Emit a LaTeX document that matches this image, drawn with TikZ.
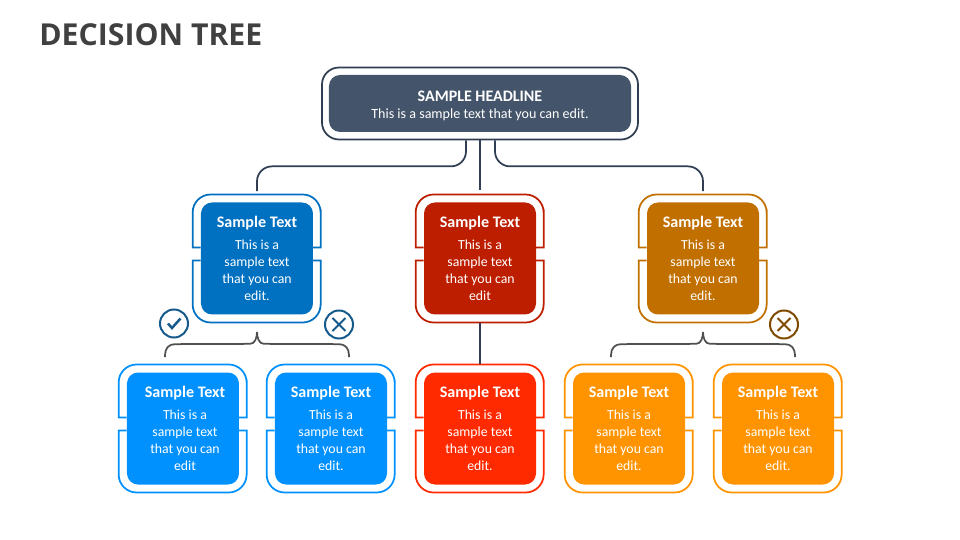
\documentclass[tikz,border=0pt]{standalone}
\usepackage{fontspec}
\setmainfont{Carlito}
\newfontfamily\pagetitlefont{Open Sans}
\usetikzlibrary{positioning}
\definecolor{slate}{HTML}{44546A}
\definecolor{slateline}{HTML}{2F3E52}
\definecolor{forkgrey}{HTML}{505050}
\definecolor{bluedark}{HTML}{0070C0}
\definecolor{bluelight}{HTML}{0091FF}
\definecolor{reddark}{HTML}{BE1E00}
\definecolor{redlight}{HTML}{FF2A00}
\definecolor{ambdark}{HTML}{C17000}
\definecolor{amblight}{HTML}{FF9400}
\definecolor{navyicon}{HTML}{165A8C}
\definecolor{brownicon}{HTML}{7F4A00}
\tikzstyle{card} = [rectangle, rounded corners=0.22cm, minimum width=2.24cm, minimum height=2.24cm, text centered, align=center, text=white, inner sep=0pt, font=\fontsize{7.85}{9.65}\selectfont]
\tikzstyle{framebit} = [line width=0.035cm]
\tikzstyle{link} = [line width=0.035cm, draw=slateline, rounded corners=0.3cm]
\tikzstyle{fork} = [line width=0.035cm, draw=forkgrey]
\tikzstyle{okmark} = [circle, draw, line width=0.04cm, minimum size=0.56cm, inner sep=0pt, path picture={\draw [line width=0.05cm] ([shift={(-0.12,0)}]path picture bounding box.center) -- ++(0.08,-0.09) -- ++(0.17,0.19);}]
\tikzstyle{nomark} = [circle, draw, line width=0.04cm, minimum size=0.56cm, inner sep=0pt, path picture={\draw [line width=0.04cm] ([shift={(-0.13,-0.13)}]path picture bounding box.center) -- ++(0.26,0.26) ++(-0.26,0) -- ++(0.26,-0.26);}]
\newcommand{\cardtext}[2]{{\bfseries\fontsize{9.15}{9.65}\selectfont #1}\\[0.11cm]#2}
% outline round a card, broken at both sides
\newcommand{\cardframe}[2]{
	\draw [framebit, draw=#2] ([yshift=0.22cm]#1.west) -- ++(-0.16,0) -- ++(0,0.4) [rounded corners=0.36cm] -- ++(0,0.66) -- ++(2.56,0) -- ++(0,-0.66) [sharp corners] -- ++(0,-0.4) -- ++(-0.16,0);
	\draw [framebit, draw=#2] ([yshift=-0.04cm]#1.west) -- ++(-0.16,0) -- ++(0,-0.4) [rounded corners=0.36cm] -- ++(0,-0.84) -- ++(2.56,0) -- ++(0,0.84) [sharp corners] -- ++(0,0.4) -- ++(-0.16,0);
}
% curly bracket: #1 tip, #2 and #3 the two ends
\newcommand{\forkline}[3]{
	\draw [fork] (#2) -- ++(0,0.04) .. controls +(0,0.14) and +(-0.12,0) .. ([xshift=0.2cm,yshift=0.26cm]#2) -- ([xshift=-0.14cm,yshift=-0.24cm]#1) .. controls +(0.1,0) and +(0,-0.12) .. (#1) .. controls +(0,-0.12) and +(-0.1,0) .. ([xshift=0.14cm,yshift=-0.24cm]#1) -- ([xshift=-0.2cm,yshift=0.26cm]#3) .. controls +(0.12,0) and +(0,0.14) .. ([yshift=0.04cm]#3) -- (#3);
}

\begin{document}
\begin{tikzpicture}[node distance=3.4cm]
	\useasboundingbox (-9.6,2.07) rectangle (9.6,-8.73);
	\node (pagetitle) [anchor=west, text=black!75, inner sep=0pt, font=\pagetitlefont\bfseries\fontsize{17.2}{20}\selectfont] at (-8.82,1.38) {DECISION TREE};
	\node (headframe) [rectangle, rounded corners=0.34cm, minimum width=6.32cm, minimum height=1.44cm, draw=slateline, line width=0.035cm] {};
	\node (head) [rectangle, rounded corners=0.22cm, minimum width=6.04cm, minimum height=1.14cm, fill=slate, text=white, align=center, inner sep=0pt, font=\fontsize{8}{9.65}\selectfont] {};
	\node (headtext) [text=white, align=center, inner sep=0pt, font=\fontsize{8}{9.65}\selectfont, yshift=-0.04cm] at (head) {{\bfseries\fontsize{9.1}{9.65}\selectfont SAMPLE HEADLINE}\\This is a sample text that you can edit.};
	\node (midcard) [card, fill=reddark, below of=head, yshift=0.3cm] {\cardtext{Sample Text}{This is a\\sample text\\that you can\\edit}};
	\node (leftcard) [card, fill=bluedark, left of=midcard, xshift=-1.06cm] {\cardtext{Sample Text}{This is a\\sample text\\that you can\\edit.}};
	\node (rightcard) [card, fill=ambdark, right of=midcard, xshift=1.06cm] {\cardtext{Sample Text}{This is a\\sample text\\that you can\\edit.}};
	\node (blueA) [card, fill=bluelight, below of=leftcard, xshift=-1.48cm] {\hspace*{0.08cm}\cardtext{Sample Text}{\hspace*{0.08cm}This is a\\\hspace*{0.08cm}sample text\\\hspace*{0.08cm}that you can\\\hspace*{0.08cm}edit}};
	\node (blueB) [card, fill=bluelight, below of=leftcard, xshift=1.48cm] {\cardtext{Sample Text}{This is a\\sample text\\that you can\\edit.}};
	\node (redleaf) [card, fill=redlight, below of=midcard] {\cardtext{Sample Text}{This is a\\sample text\\that you can\\edit.}};
	\node (ambA) [card, fill=amblight, below of=rightcard, xshift=-1.48cm] {\cardtext{Sample Text}{This is a\\sample text\\that you can\\edit.}};
	\node (ambB) [card, fill=amblight, below of=rightcard, xshift=1.5cm] {\cardtext{Sample Text}{This is a\\sample text\\that you can\\edit.}};
	\cardframe{midcard}{reddark}
	\cardframe{leftcard}{bluedark}
	\cardframe{rightcard}{ambdark}
	\cardframe{blueA}{bluelight}
	\cardframe{blueB}{bluelight}
	\cardframe{redleaf}{redlight}
	\cardframe{ambA}{amblight}
	\cardframe{ambB}{amblight}
	\draw [link] ([xshift=-0.28cm]headframe.south) -- ++(0,-0.52) -| ([yshift=0.22cm]leftcard.north);
	\draw [link] ([xshift=0.3cm]headframe.south) -- ++(0,-0.52) -| ([yshift=0.22cm]rightcard.north);
	\draw [link] (headframe.south) -- ([yshift=0.24cm]midcard.north);
	\draw [link] ([yshift=-0.16cm]midcard.south) -- ([yshift=0.16cm]redleaf.north);
	\coordinate (forkL) at ([yshift=-0.34cm]leftcard.south);
	\coordinate (forkLa) at ([xshift=-0.36cm,yshift=0.3cm]blueA.north);
	\coordinate (forkLb) at ([xshift=0.36cm,yshift=0.3cm]blueB.north);
	\coordinate (forkR) at ([yshift=-0.34cm]rightcard.south);
	\coordinate (forkRa) at ([xshift=-0.36cm,yshift=0.3cm]ambA.north);
	\coordinate (forkRb) at ([xshift=0.34cm,yshift=0.3cm]ambB.north);
	\forkline{forkL}{forkLa}{forkLb}
	\forkline{forkR}{forkRa}{forkRb}
	\node (okicon) [okmark, draw=navyicon, text=navyicon] at (-6.12,-4.4) {};
	\node (noicon) [nomark, draw=navyicon] at (-2.82,-4.42) {};
	\node (ambicon) [nomark, draw=brownicon] at (6.08,-4.42) {};
\end{tikzpicture}
\end{document}
